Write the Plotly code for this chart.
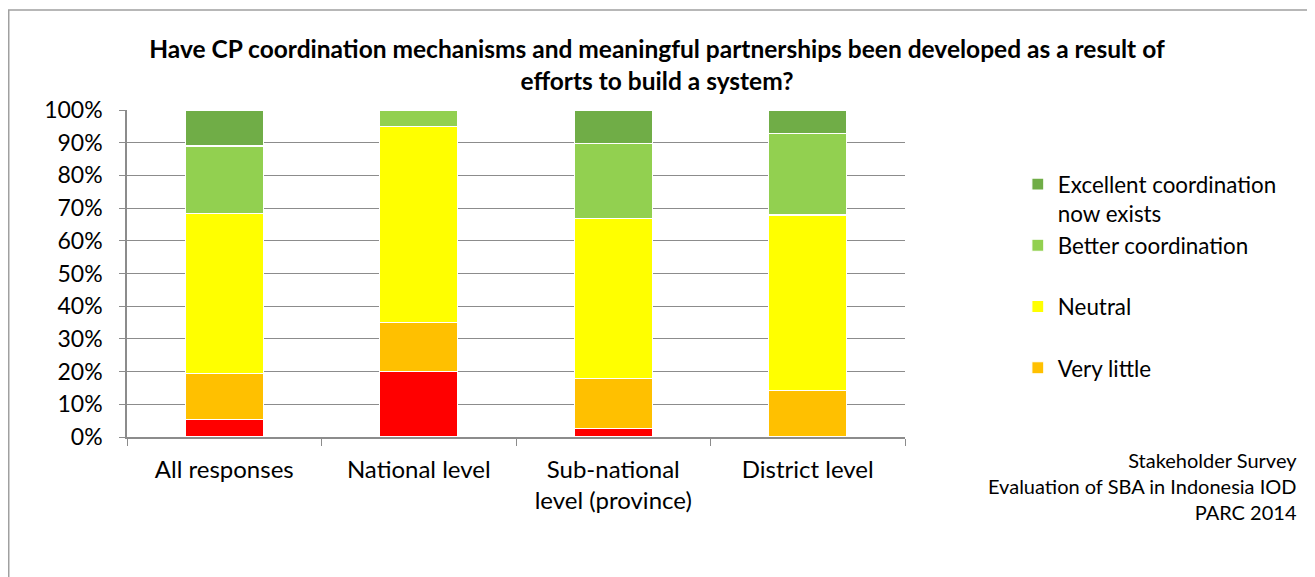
import plotly.graph_objects as go

categories = ["All responses", "National level", "Sub-national<br>level (province)", "District level"]
series_names = ["Not at all", "Very little", "Neutral", "Better coordination", "Excellent coordination<br>now exists"]
legend_labels = ["Not at all", "Very little<br> ", "Neutral<br> ", "Better coordination<br> ", "Excellent coordination<br>now exists"]
not_at_all = [5.3, 20.0, 2.6, 0.0]
very_little = [14.0, 15.0, 15.4, 14.3]
neutral = [49.0, 60.0, 48.7, 53.6]
better = [20.7, 5.0, 23.1, 25.0]
excellent = [11.0, 0.0, 10.2, 7.1]
colors = ["#FF0000", "#FFC000", "#FFFF00", "#92D050", "#70AD47"]
yticks = [0, 10, 20, 30, 40, 50, 60, 70, 80, 90, 100]
ytick_labels = [f"{v}%" for v in yticks]

FONT = "Lato"
fig = go.Figure()
values = [not_at_all, very_little, neutral, better, excellent]
for i, (name, vals, col) in enumerate(zip(legend_labels, values, colors)):
    fig.add_trace(go.Bar(
        x=categories, y=vals, name=name,
        marker=dict(color=col, line=dict(color="white", width=1.2)),
        showlegend=(i > 0), legendrank=10 - i,
        width=0.4,
    ))

fig.update_layout(
    barmode="stack",
    width=1315, height=577,
    margin=dict(l=119, r=418, t=102, b=148),
    paper_bgcolor="white", plot_bgcolor="white",
    font=dict(family=FONT, color="black"),
    title=dict(
        text="Have CP coordination mechanisms and meaningful partnerships been developed as a result of<br>efforts to build a system?",
        x=0.4935, xanchor="center", y=0.913, yanchor="middle",
        font=dict(family=FONT, size=24.5, color="black", weight="bold"),
    ),
    legend=dict(
        x=1.145, xanchor="left", y=0.838, yanchor="top",
        traceorder="normal",
        font=dict(size=22.4), itemwidth=30, valign="top",
        bgcolor="rgba(0,0,0,0)",
    ),
    yaxis=dict(
        range=[0, 100], tickvals=yticks, ticktext=ytick_labels,
        showgrid=True, gridcolor="#8C8C8C", gridwidth=1,
        showline=True, linecolor="#8C8C8C", linewidth=1.5,
        ticks="outside", ticklen=6, tickcolor="#8C8C8C",
        tickfont=dict(size=23), zeroline=False, ticklabelstandoff=12,
    ),
    xaxis=dict(
        showline=True, linecolor="#8C8C8C", linewidth=1.5,
        ticks="outside", ticklen=7, tickcolor="#8C8C8C", tickson="boundaries",
        tickfont=dict(size=24), showgrid=False, ticklabelstandoff=10,
    ),
)

fig.add_annotation(
    text="Stakeholder Survey<br>Evaluation of SBA in Indonesia IOD<br>PARC 2014",
    xref="paper", yref="paper", x=1.5065, y=-0.027, xanchor="right", yanchor="top",
    align="right", showarrow=False, font=dict(size=20, family=FONT),
)

fig.add_shape(type="rect", xref="paper", yref="paper",
              x0=-0.152, x1=1.6, y0=-0.6, y1=1.306,
              line=dict(color="#A0A0A0", width=1.5), fillcolor="rgba(0,0,0,0)", layer="below")

fig.write_html("out.html")
